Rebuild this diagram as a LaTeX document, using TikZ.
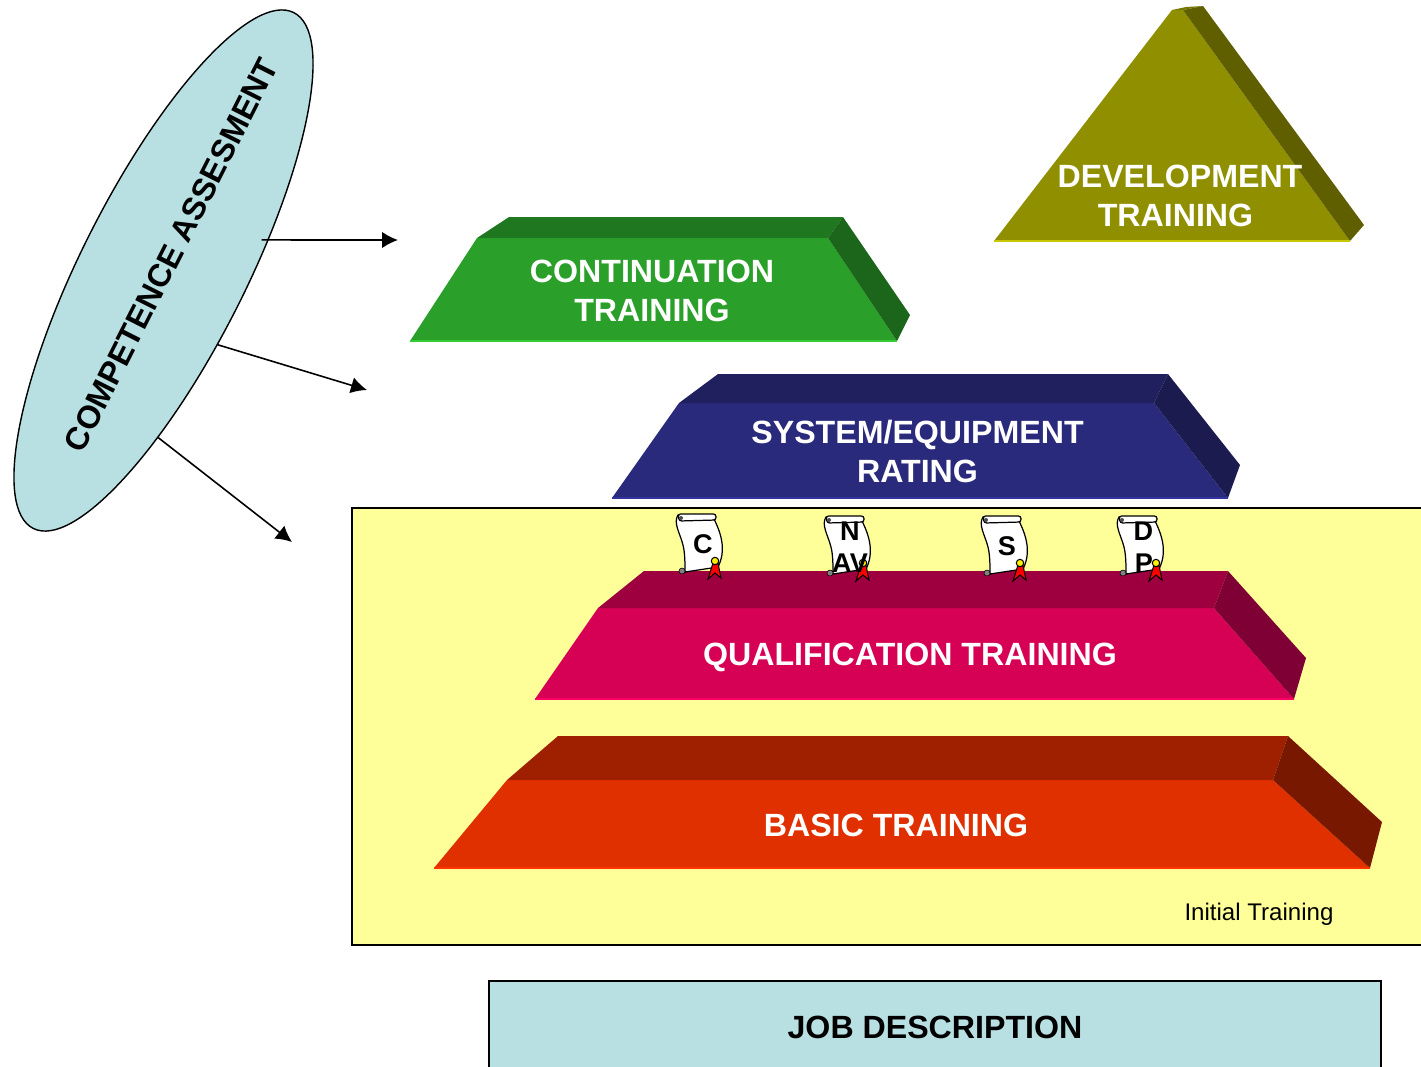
\documentclass[tikz,border=0pt]{standalone}
\usepackage{fontspec}
\setmainfont{Liberation Sans}
\usepackage{xcolor}
\usetikzlibrary{arrows.meta,shapes.geometric}

\definecolor{paleblue}{HTML}{B8E0E2}
\definecolor{paleyellow}{HTML}{FFFF99}
\definecolor{olivefront}{HTML}{8F8F00}
\definecolor{oliveside}{HTML}{5F5F00}
\definecolor{olivetop}{HTML}{787800}
\definecolor{oliveedge}{HTML}{C8C800}
\definecolor{greenfront}{HTML}{2AA02A}
\definecolor{greentop}{HTML}{1F781F}
\definecolor{greenside}{HTML}{1B661B}
\definecolor{greenedge}{HTML}{33CC33}
\definecolor{navyfront}{HTML}{2A2A7C}
\definecolor{navytop}{HTML}{20205E}
\definecolor{navyside}{HTML}{1B1B50}
\definecolor{navyedge}{HTML}{3333A0}
\definecolor{crimsonfront}{HTML}{D60054}
\definecolor{crimsontop}{HTML}{9E003F}
\definecolor{crimsonside}{HTML}{7F0035}
\definecolor{crimsonedge}{HTML}{FF0066}
\definecolor{redfront}{HTML}{E03000}
\definecolor{redtop}{HTML}{9E2000}
\definecolor{redside}{HTML}{781800}
\definecolor{rededge}{HTML}{FF3300}

\tikzset{
  blocklabel/.style={text=white,font=\fontsize{18.3pt}{22.2pt}\selectfont\bfseries,align=center,inner sep=0pt},
  scrollletter/.style={text=black,font=\fontsize{15.4pt}{18pt}\selectfont\bfseries,inner sep=0pt},
  feedback/.style={line width=0.9pt,-{Latex[length=0.32cm,width=0.33cm]}},
  panel/.style={draw=black,line width=1.1pt},
  scrollpic/.pic={
    % parchment
    \draw[fill=white,line width=0.7pt] (2,2) .. controls (-3,10) and (4,20) .. (7,32)
      .. controls (9,40) and (9,50) .. (9,59) -- (42,54)
      .. controls (50,38) and (46,22) .. (38,6) -- cycle;
    % top roll
    \draw[fill=white,line width=0.7pt,rounded corners=1.5pt] (2,1) -- (40,1) -- (40,7) -- (3,8) -- cycle;
    \fill[gray!60!black] (5,5) circle (2);
    % bottom curl
    \draw[fill=gray,line width=0.3pt] (6,58) circle (3);
    % ribbon and seal
    \draw[fill=red,line width=0.6pt] (37,50) -- (32,66) -- (39,60) -- (45,65) -- (42,50) -- cycle;
    \draw[fill=yellow,line width=0.6pt] (39,48) circle (3.7);
  }
}

\begin{document}
\begin{tikzpicture}[x=0.02cm,y=-0.02cm]
  \clip (0,0) rectangle (1421,1066);

  % Initial training panel and job description
  \draw[panel,fill=paleyellow] (352,508) rectangle (1440,945);
  \draw[panel,fill=paleblue] (489,981) rectangle (1381,1090);

  % Development training
  \fill[olivefront] (994,241) -- (1172,10) -- (1183,10) -- (1350,241) -- cycle;
  \fill[olivetop] (1172,10) -- (1186,7) -- (1203,6) -- (1183,10) -- cycle;
  \fill[oliveside] (1183,10) -- (1203,6) -- (1364,225) -- (1350,241) -- cycle;
  \draw[oliveedge,line width=1pt] (994,241) -- (1350,241);
  \node[blocklabel] (development) at (1180,196) {DEVELOPMENT\\TRAINING\rule{5.1pt}{0pt}};

  % Continuation training
  \fill[greenfront] (410,341) -- (477,238) -- (828,238) -- (897,341) -- cycle;
  \fill[greentop] (477,238) -- (509,217) -- (843,217) -- (828,238) -- cycle;
  \fill[greenside] (828,238) -- (843,217) -- (910,315) -- (897,341) -- cycle;
  \draw[greenedge,line width=1pt] (410,341) -- (897,341);
  \node[blocklabel] (continuation) at (652,291) {CONTINUATION\\TRAINING};

  % System/equipment rating
  \fill[navyfront] (612,498) -- (679,403) -- (1154,403) -- (1228,498) -- cycle;
  \fill[navytop] (679,403) -- (718,374) -- (1168,374) -- (1154,403) -- cycle;
  \fill[navyside] (1154,403) -- (1168,374) -- (1240,465) -- (1228,498) -- cycle;
  \draw[navyedge,line width=1pt] (612,498) -- (1228,498);
  \node[blocklabel] (rating) at (917.5,451) {SYSTEM/EQUIPMENT\\RATING};

  % Qualification training
  \fill[crimsonfront] (535,699) -- (598,608) -- (1214,608) -- (1294,699) -- cycle;
  \fill[crimsontop] (598,608) -- (644,571) -- (1228,571) -- (1214,608) -- cycle;
  \fill[crimsonside] (1214,608) -- (1228,571) -- (1306,658) -- (1294,699) -- cycle;
  \draw[crimsonedge,line width=1pt] (535,699) -- (1294,699);
  \node[blocklabel] (qualification) at (910,657) {QUALIFICATION TRAINING};

  % Basic training
  \fill[redfront] (434,868) -- (507,780) -- (1273,780) -- (1370,868) -- cycle;
  \fill[redtop] (507,780) -- (558,736) -- (1288,736) -- (1273,780) -- cycle;
  \fill[redside] (1273,780) -- (1288,736) -- (1382,822) -- (1370,868) -- cycle;
  \draw[rededge,line width=1pt] (434,868) -- (1370,868);
  \node[blocklabel] (basic) at (896,825) {BASIC TRAINING};

  % Certificates
  \pic at (676,513) {scrollpic};
  \pic at (824,515) {scrollpic};
  \pic at (981,515) {scrollpic};
  \pic at (1117,515) {scrollpic};
  \node[scrollletter] (certc) at (703,544) {C};
  \node[scrollletter] (certn) at (850,531) {N};
  \node[scrollletter] (certav) at (850,563) {AV};
  \node[scrollletter] (certs) at (1007,546) {S};
  \node[scrollletter] (certd) at (1143.5,531) {D};
  \node[scrollletter] (certp) at (1144,563) {P};

  \node[inner sep=0pt,font=\fontsize{13.7pt}{16pt}\selectfont] (initial) at (1259,914) {Initial Training};
  \node[inner sep=0pt,font=\fontsize{18.3pt}{22pt}\selectfont\bfseries] (job) at (935,1027) {JOB DESCRIPTION};

  % Competence assessment and its arrows
  \node[ellipse,draw=black,fill=paleblue,line width=0.8pt,inner sep=0pt,
    minimum width=11.56cm,minimum height=3.29cm,rotate=63.2] (assess) at (163.5,270.5) {};
  \node[inner sep=0pt,rotate=63.2,font=\fontsize{18.3pt}{22pt}\selectfont\bfseries] (assesslabel) at (171,255) {COMPETENCE ASSESMENT};

  \coordinate (toplevel) at (398,240);
  \coordinate (midlevel) at (367,390);
  \coordinate (lowlevel) at (292,542);
  \draw[feedback,shorten <=-0.14cm] (assess.-47.8) -- (toplevel);
  \draw[feedback] (assess.-117.8) -- (midlevel);
  \draw[feedback] (assess.-155.8) -- (lowlevel);
\end{tikzpicture}
\end{document}
